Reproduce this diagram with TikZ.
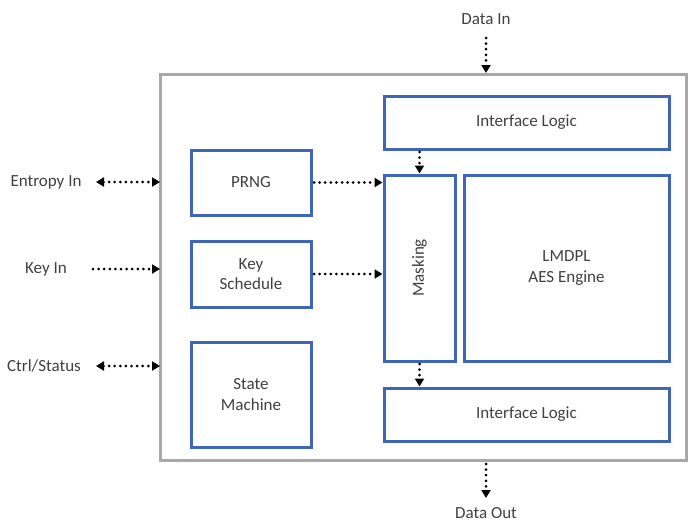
\documentclass[tikz,border=0pt]{standalone}
\usepackage{fontspec}
\setmainfont{Carlito}
\usetikzlibrary{arrows.meta}
\definecolor{boxblue}{HTML}{3F66B5}
\definecolor{outergrey}{HTML}{A8A8A8}
\definecolor{txt}{HTML}{404040}
\tikzset{
  blk/.style={draw=boxblue, line width=3pt, fill=white, inner sep=0pt, align=center, text=txt, font=\fontsize{17}{20.5}\selectfont},
  lbl/.style={text=txt, font=\fontsize{17}{20.5}\selectfont, inner sep=1pt},
  dotline/.style={line width=3pt, line cap=round, dash pattern=on 0pt off 5.6pt},
  tip/.style={-{Triangle[length=8pt,width=9pt]}},
  tips/.style={{Triangle[length=8pt,width=9pt]}-{Triangle[length=8pt,width=9pt]}},
}
\begin{document}
\begin{tikzpicture}[x=1pt,y=-1pt]
\useasboundingbox (0,0) rectangle (697,522);
% outer box
\node[draw=outergrey, line width=3pt, minimum width=526pt, minimum height=386pt, inner sep=0pt] (outer) at (423,267) {};
% blocks
\node[blk, minimum width=285pt, minimum height=53pt] (ifTop) at (526.5,122.5) {Interface Logic};
\node[blk, minimum width=285pt, minimum height=53pt] (ifBot) at (526.5,414.5) {Interface Logic};
\node[blk, minimum width=120pt, minimum height=65pt] (prng) at (251,182.5) {PRNG};
\node[blk, minimum width=120pt, minimum height=66pt] (ks) at (251,274) {Key\\Schedule};
\node[blk, minimum width=120pt, minimum height=105pt] (sm) at (251,394.5) {State\\Machine};
\node[blk, minimum width=71pt, minimum height=186pt] (mask) at (419.5,268) {};
\node[lbl, rotate=90] (masktxt) at (mask.center) {Masking};
\node[blk, minimum width=205pt, minimum height=186pt] (aes) at (566.5,268) {LMDPL\\AES Engine};
% external labels
\node[lbl] (din) at (486,19) {Data In};
\node[lbl] (dout) at (486,513) {Data Out};
\node[lbl] (ent) at (46,182) {Entropy In};
\node[lbl] (key) at (46,269) {Key In};
\node[lbl] (ctrl) at (44,366) {Ctrl/Status};
% coordinates on the outer box
\coordinate (dinE) at (486,73);
\coordinate (dinS) at (486,38);
\coordinate (doutS) at (486,464);
\coordinate (doutE) at (486,498);
\coordinate (entS) at (96,182);
\coordinate (entE) at (160,182);
\coordinate (keyS) at (93,269);
\coordinate (keyE) at (160,269);
\coordinate (ctrlS) at (96,366);
\coordinate (ctrlE) at (160,366);
% connectors
\draw[dotline, tip] (dinS) -- (dinE);
\draw[dotline, tip] (doutS) -- (doutE);
\draw[dotline, tips] (entS) -- (entE);
\draw[dotline, tip] (keyS) -- (keyE);
\draw[dotline, tips] (ctrlS) -- (ctrlE);
\draw[dotline, tip] (prng.east) ++(1.5,0) -- (mask.west |- prng.east);
\draw[dotline, tip] (ks.east) ++(1.5,0) -- (mask.west |- ks.east);
\draw[dotline, tip] (ifTop.south -| mask.center) ++(0,1.5) -- (mask.north);
\draw[dotline, tip] (mask.south) ++(0,1.5) -- (ifBot.north -| mask.center);
\end{tikzpicture}
\end{document}
